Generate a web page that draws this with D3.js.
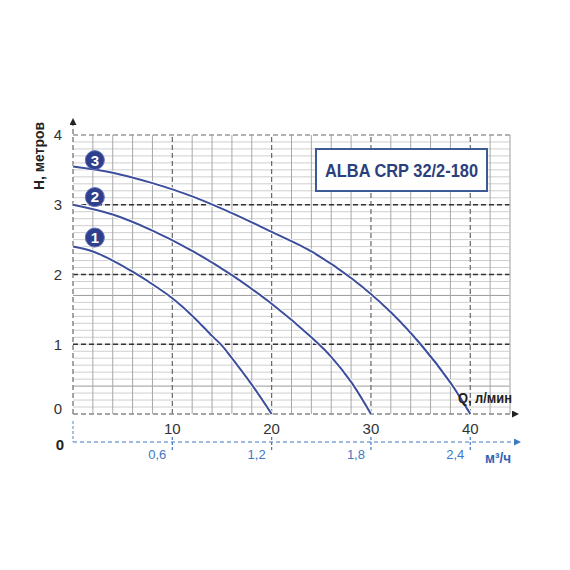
<!DOCTYPE html>
<html>
<head>
<meta charset="utf-8">
<script src="https://cdn.jsdelivr.net/npm/d3@7"></script>
<style>
  body { margin: 0; background: #fff; }
  text { font-family: "Liberation Sans", Arial, sans-serif; }
</style>
</head>
<body>
<script>
// curves: Q (l/min) -> H (m)
var curve1 = [[0,2.4],[2,2.33],[4,2.2],[6,2.04],[8,1.86],[10,1.66],[12,1.41],[14,1.12],[15,0.98],[16,0.8],[18,0.42],[20,0]];
var curve2 = [[0,3.0],[4,2.86],[8,2.63],[12,2.34],[16,1.99],[20,1.58],[24,1.1],[26,0.82],[28,0.46],[30,0]];
var curve3 = [[0,3.55],[4,3.46],[8,3.31],[12,3.12],[16,2.88],[20,2.61],[24,2.33],[28,1.95],[32,1.46],[35,1.0],[38,0.45],[40,0]];
var curveNames = ["1", "2", "3"];
var labelPos = [[2.2,2.53],[2.2,3.11],[2.2,3.64]];

var xTicks = [10, 20, 30, 40];
var yTicks = [0, 1, 2, 3, 4];
var m3Ticks = ["0,6", "1,2", "1,8", "2,4"];
var darkLines = [0.4, 1.7];
var title = "ALBA CRP 32/2-180";

var svg = d3.select("body").append("svg")
    .attr("width", 570)
    .attr("height", 570);

var x = d3.scaleLinear().domain([0, 44]).range([73, 510]),
    y = d3.scaleLinear().domain([0, 4]).range([414, 135]);

var grid = svg.append("g");

// light horizontal lines every 0.1
grid.selectAll(".hmin")
    .data(d3.range(1, 40).map(function(i) { return i / 10; }))
    .enter().append("line")
    .attr("x1", x(0)).attr("x2", x(44))
    .attr("y1", function(d) { return y(d); })
    .attr("y2", function(d) { return y(d); })
    .attr("stroke", function(d) { return darkLines.indexOf(d) >= 0 ? "#9a9a9a" : "#cfcfcf"; })
    .attr("stroke-width", 1);

// vertical lines every 2
grid.selectAll(".vmin")
    .data(d3.range(2, 45, 2).filter(function(d) { return d % 10 != 0; }))
    .enter().append("line")
    .attr("x1", function(d) { return x(d); })
    .attr("x2", function(d) { return x(d); })
    .attr("y1", y(0)).attr("y2", y(4))
    .attr("stroke", "#a8a8a8")
    .attr("stroke-width", 1);

// dashed lines at whole metres
grid.selectAll(".hmaj")
    .data([1, 2, 3])
    .enter().append("line")
    .attr("x1", x(0)).attr("x2", x(44))
    .attr("y1", function(d) { return y(d); })
    .attr("y2", function(d) { return y(d); })
    .attr("stroke", "#333")
    .attr("stroke-width", 1.3)
    .attr("stroke-dasharray", "5,3");

grid.append("line")
    .attr("x1", x(0)).attr("x2", x(44))
    .attr("y1", y(4)).attr("y2", y(4))
    .attr("stroke", "#999").attr("stroke-width", 1.3)
    .attr("stroke-dasharray", "5,3");

grid.selectAll(".vmaj")
    .data(xTicks)
    .enter().append("line")
    .attr("x1", function(d) { return x(d); })
    .attr("x2", function(d) { return x(d); })
    .attr("y1", y(0)).attr("y2", y(4))
    .attr("stroke", "#666")
    .attr("stroke-width", 1.2)
    .attr("stroke-dasharray", "5,3");

// axes with arrows
svg.append("defs").selectAll("marker")
    .data([["arrK", "#222"], ["arrB", "#3f78c4"]])
    .enter().append("marker")
    .attr("id", function(d) { return d[0]; })
    .attr("viewBox", "0 0 10 10")
    .attr("refX", 0).attr("refY", 5)
    .attr("markerWidth", 9).attr("markerHeight", 7)
    .attr("markerUnits", "userSpaceOnUse")
    .attr("orient", "auto")
    .append("path")
    .attr("d", "M0,0L10,5L0,10Z")
    .attr("fill", function(d) { return d[1]; });

svg.append("line")
    .attr("x1", x(0)).attr("x2", 512)
    .attr("y1", y(0)).attr("y2", y(0))
    .attr("stroke", "#888").attr("stroke-width", 1.5)
    .attr("stroke-dasharray", "5,3")
    .attr("marker-end", "url(#arrK)");

svg.append("line")
    .attr("x1", x(0)).attr("x2", x(0))
    .attr("y1", y(0)).attr("y2", 125)
    .attr("stroke", "#888").attr("stroke-width", 1.5)
    .attr("stroke-dasharray", "5,3")
    .attr("marker-end", "url(#arrK)");

svg.append("line")
    .attr("x1", x(44)).attr("x2", x(44))
    .attr("y1", y(0)).attr("y2", y(4))
    .attr("stroke", "#ccc");

// curves
var line = d3.line()
    .curve(d3.curveCatmullRom.alpha(0.5))
    .x(function(d) { return x(d[0]); })
    .y(function(d) { return y(d[1]); });

var curves = svg.selectAll(".curve")
    .data([curve1, curve2, curve3])
    .enter().append("g");

curves.append("path")
    .attr("d", line)
    .attr("fill", "none")
    .attr("stroke", "#fff")
    .attr("stroke-width", 4);

curves.append("path")
    .attr("d", line)
    .attr("fill", "none")
    .attr("stroke", "#3d4e9c")
    .attr("stroke-width", 2);

var marks = svg.selectAll(".mark")
    .data(curveNames)
    .enter().append("g")
    .attr("transform", function(d, i) { return "translate(" + x(labelPos[i][0]) + "," + y(labelPos[i][1]) + ")"; });

marks.append("circle")
    .attr("r", 9.5)
    .attr("fill", "#2e3f8e")
    .attr("stroke", "#6272b8")
    .attr("stroke-width", 1);

marks.append("text")
    .attr("text-anchor", "middle")
    .attr("dy", "0.36em")
    .attr("fill", "#fff")
    .style("font-weight", "bold")
    .style("font-size", "15px")
    .text(function(d) { return d; });

// y tick labels
svg.selectAll(".ylab")
    .data(yTicks)
    .enter().append("text")
    .attr("x", 58)
    .attr("y", function(d) { return y(d) - (d == 0 ? 5 : 0); })
    .attr("dy", "0.36em")
    .attr("text-anchor", "middle")
    .attr("fill", "#333")
    .style("font-size", "15px")
    .text(function(d) { return d; });

svg.append("text")
    .attr("transform", "translate(44,156) rotate(-90)")
    .attr("text-anchor", "middle")
    .attr("fill", "#222")
    .style("font-weight", "bold")
    .style("font-size", "15px")
    .attr("textLength", 68)
    .attr("lengthAdjust", "spacingAndGlyphs")
    .text("Н, метров");

// x tick labels (l/min)
svg.selectAll(".xlab")
    .data(xTicks)
    .enter().append("text")
    .attr("x", function(d) { return x(d); })
    .attr("y", 434)
    .attr("text-anchor", "middle")
    .attr("fill", "#333")
    .style("font-size", "15px")
    .text(function(d) { return d; });

svg.append("text")
    .attr("x", 458).attr("y", 403)
    .attr("fill", "#222")
    .style("font-weight", "bold")
    .style("font-size", "15px")
    .attr("textLength", 54)
    .attr("lengthAdjust", "spacingAndGlyphs")
    .text("Q, л/мин");

// second axis, m3/h
svg.append("line")
    .attr("x1", x(0)).attr("x2", 514)
    .attr("y1", 442).attr("y2", 442)
    .attr("stroke", "#3f78c4").attr("stroke-width", 1.2)
    .attr("stroke-dasharray", "4,3")
    .attr("marker-end", "url(#arrB)");

svg.append("line")
    .attr("x1", x(0)).attr("x2", x(0))
    .attr("y1", 421).attr("y2", 442)
    .attr("stroke", "#8fb0dc").attr("stroke-width", 1.5)
    .attr("stroke-dasharray", "3,2");

svg.selectAll(".m3tick")
    .data(xTicks)
    .enter().append("line")
    .attr("x1", function(d) { return x(d); })
    .attr("x2", function(d) { return x(d); })
    .attr("y1", 437).attr("y2", 452)
    .attr("stroke", "#3f78c4").attr("stroke-width", 1.2)
    .attr("stroke-dasharray", "3,2");

svg.selectAll(".m3lab")
    .data(m3Ticks)
    .enter().append("text")
    .attr("x", function(d, i) { return x(xTicks[i]) - 6; })
    .attr("y", 459)
    .attr("text-anchor", "end")
    .attr("fill", "#3f78c4")
    .style("font-size", "13px")
    .text(function(d) { return d; });

svg.append("text")
    .attr("x", 60).attr("y", 450)
    .attr("text-anchor", "middle")
    .attr("fill", "#222")
    .style("font-weight", "bold")
    .style("font-size", "15px")
    .text("0");

svg.append("text")
    .attr("x", 485).attr("y", 463)
    .attr("fill", "#2f63b4")
    .style("font-weight", "bold")
    .style("font-size", "15px")
    .attr("textLength", 26)
    .attr("lengthAdjust", "spacingAndGlyphs")
    .text("м³/ч");

// title box
svg.append("rect")
    .attr("x", 316).attr("y", 149)
    .attr("width", 171).attr("height", 42)
    .attr("fill", "#fff")
    .attr("stroke", "#3c5a96")
    .attr("stroke-width", 2);

svg.append("text")
    .attr("x", 325).attr("y", 170)
    .attr("dy", "0.36em")
    .attr("fill", "#2b3f7c")
    .style("font-weight", "bold")
    .style("font-size", "19px")
    .attr("textLength", 153)
    .attr("lengthAdjust", "spacingAndGlyphs")
    .text(title);
</script>
</body>
</html>
